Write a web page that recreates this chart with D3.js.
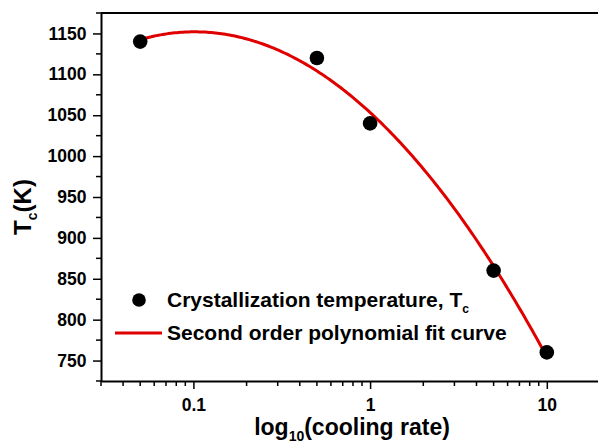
<!DOCTYPE html>
<html>
<head>
<meta charset="utf-8">
<script src="https://cdn.jsdelivr.net/npm/d3@7"></script>
<style>
  body { margin: 0; background: #fff; }
  svg { display: block; font-family: "Liberation Sans", Arial, sans-serif; font-weight: bold; }
</style>
</head>
<body>
<svg width="598" height="448"></svg>
<script>
// cooling rate and crystallization temperature
var coolingRate = [0.05, 0.5, 1, 5, 10];
var tempK = [1140, 1120, 1040, 860, 760];
var yTicks = [750, 800, 850, 900, 950, 1000, 1050, 1100, 1150];
var xTicks = [0.1, 1, 10];

var svg = d3.select('svg');
var margin = { left: 101, top: 13, right: 600, bottom: 381 };

var x = d3.scaleLog().domain([0.03, 20]).range([margin.left, margin.right]);
var y = d3.scaleLinear().domain([725, 1175]).range([margin.bottom, margin.top]);

// second order least squares fit of T against log10(rate)
function polyFit(us, ts) {
  var S = [0, 0, 0, 0, 0], R = [0, 0, 0];
  us.forEach(function (u, i) {
    for (var k = 0; k < 5; k++) S[k] += Math.pow(u, k);
    for (var j = 0; j < 3; j++) R[j] += Math.pow(u, j) * ts[i];
  });
  var M = [
    [S[0], S[1], S[2], R[0]],
    [S[1], S[2], S[3], R[1]],
    [S[2], S[3], S[4], R[2]]
  ];
  for (var c = 0; c < 3; c++) {
    for (var r = c + 1; r < 3; r++) {
      var f = M[r][c] / M[c][c];
      for (var k2 = c; k2 < 4; k2++) M[r][k2] -= f * M[c][k2];
    }
  }
  var coef = [0, 0, 0];
  for (var i2 = 2; i2 >= 0; i2--) {
    var s = M[i2][3];
    for (var j2 = i2 + 1; j2 < 3; j2++) s -= M[i2][j2] * coef[j2];
    coef[i2] = s / M[i2][i2];
  }
  return coef;
}

var coef = polyFit(coolingRate.map(Math.log10), tempK);
var u0 = Math.log10(coolingRate[0]), u1 = Math.log10(coolingRate[coolingRate.length - 1]);
var fitPts = d3.range(0, 201).map(function (i) {
  var u = u0 + (u1 - u0) * i / 200;
  return [Math.pow(10, u), coef[0] + coef[1] * u + coef[2] * u * u];
});

// axes
var xAxis = svg.append('g').attr('transform', 'translate(0,' + margin.bottom + ')');
xAxis.call(d3.axisBottom(x).tickValues(xTicks).tickFormat(d3.format('~g')).tickSize(8).tickSizeOuter(0));
var minorX = x.ticks().filter(function (d) { return xTicks.indexOf(d) < 0; });
xAxis.selectAll('.minor').data(minorX).enter().append('line')
  .attr('x1', function (d) { return x(d); }).attr('x2', function (d) { return x(d); })
  .attr('y1', 0).attr('y2', 5).attr('stroke', '#000').attr('stroke-width', 1.5);

var yAxis = svg.append('g').attr('transform', 'translate(' + margin.left + ',0)');
yAxis.call(d3.axisLeft(y).tickValues(yTicks).tickFormat(d3.format('d')).tickSize(8).tickSizeOuter(0));
yAxis.selectAll('.minor').data(d3.range(725, 1176, 50)).enter().append('line')
  .attr('y1', function (d) { return y(d); }).attr('y2', function (d) { return y(d); })
  .attr('x1', 0).attr('x2', -5).attr('stroke', '#000').attr('stroke-width', 1.5);

[xAxis, yAxis].forEach(function (g) {
  g.select('.domain').attr('stroke-width', 2);
  g.selectAll('.tick line').attr('stroke-width', 1.5);
  g.selectAll('.tick text').style('font-size', '17.5px').style('font-weight', 'bold').attr('fill', '#000')
    .style('font-family', '"Liberation Sans", Arial, sans-serif');
});
xAxis.selectAll('.tick text').attr('dy', '1.1em');
yAxis.selectAll('.tick text').attr('dx', '-0.2em');

// top frame
svg.append('line').attr('x1', margin.left).attr('x2', margin.right)
  .attr('y1', margin.top).attr('y2', margin.top).attr('stroke', '#000').attr('stroke-width', 2);

// fit curve
svg.append('path').datum(fitPts)
  .attr('fill', 'none').attr('stroke', '#e00000').attr('stroke-width', 3)
  .attr('d', d3.line().x(function (d) { return x(d[0]); }).y(function (d) { return y(d[1]); }));

// data points
svg.append('g').selectAll('circle').data(coolingRate).enter().append('circle')
  .attr('cx', function (d) { return x(d); })
  .attr('cy', function (d, i) { return y(tempK[i]); })
  .attr('r', 7.3).attr('fill', '#000');

// legend
svg.append('circle').attr('cx', 139).attr('cy', 300).attr('r', 6.8).attr('fill', '#000');
var t1 = svg.append('text').attr('x', 167).attr('y', 307).style('font-size', '21px');
t1.append('tspan').text('Crystallization temperature, T');
t1.append('tspan').attr('dy', 6).style('font-size', '12px').text('c');
svg.append('line').attr('x1', 115).attr('x2', 162).attr('y1', 333).attr('y2', 333)
  .attr('stroke', '#e00000').attr('stroke-width', 3);
svg.append('text').attr('x', 167).attr('y', 340).style('font-size', '21px').text('Second order polynomial fit curve');

// axis titles
var yl = svg.append('text').attr('transform', 'translate(31,207) rotate(-90)')
  .attr('text-anchor', 'middle').style('font-size', '24px');
yl.append('tspan').text('T');
yl.append('tspan').attr('dy', 6).style('font-size', '14px').text('c');
yl.append('tspan').attr('dy', -6).text('(K)');

var xl = svg.append('text').attr('x', 352).attr('y', 435).attr('text-anchor', 'middle').style('font-size', '23px');
xl.append('tspan').text('log');
xl.append('tspan').attr('dy', 6).style('font-size', '14px').text('10');
xl.append('tspan').attr('dy', -6).text('(cooling rate)');
</script>
</body>
</html>
